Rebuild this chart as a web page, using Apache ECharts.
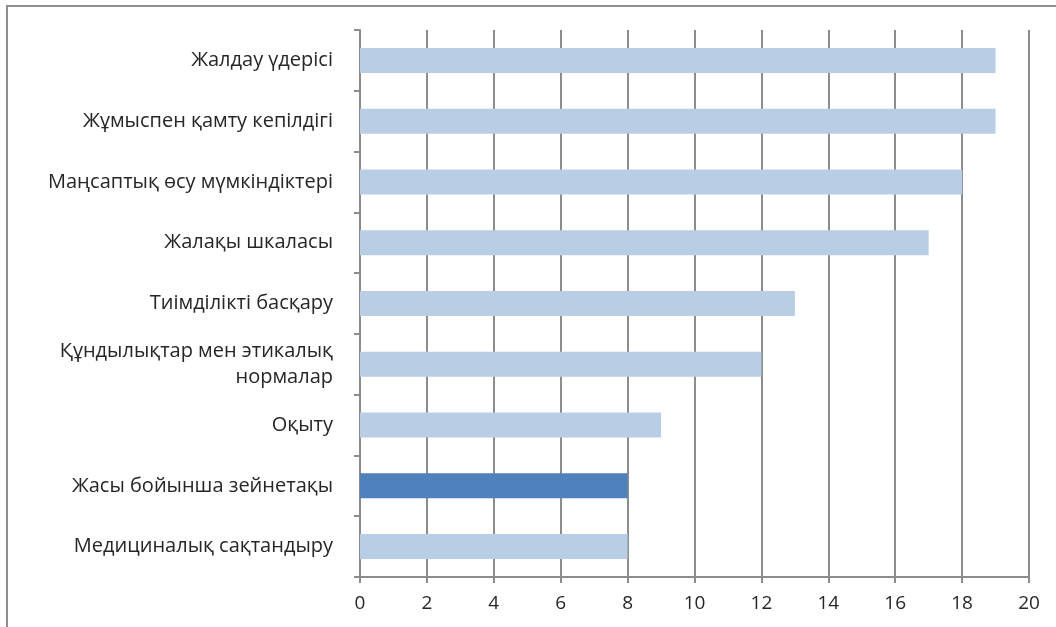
<!DOCTYPE html>
<html>
<head>
<meta charset="utf-8">
<script src="https://cdn.jsdelivr.net/npm/echarts@6/dist/echarts.min.js"></script>
<style>
  html, body { margin: 0; padding: 0; background: #fff; }
  #chart { width: 1056px; height: 627px; }
</style>
</head>
<body>
<div id="chart"></div>
<script>
var categories = [
  'Жалдау үдерісі',
  'Жұмыспен қамту кепілдігі',
  'Маңсаптық өсу мүмкіндіктері',
  'Жалақы шкаласы',
  'Тиімділікті басқару',
  'Құндылықтар мен этикалық\nнормалар',
  'Оқыту',
  'Жасы бойынша зейнетақы',
  'Медициналық сақтандыру'
];
var values = [19, 19, 18, 17, 13, 12, 9, 8, 8];
var highlighted = 'Жасы бойынша зейнетақы';

var chart = echarts.init(document.getElementById('chart'));

var barData = values.map(function (v, i) {
  return {
    value: v,
    itemStyle: { color: categories[i] === highlighted ? '#4f81bd' : '#b9cde5' }
  };
});

var option = {
  backgroundColor: '#ffffff',
  animation: false,
  graphic: [{
    type: 'rect',
    shape: { x: 7, y: 6, width: 1200, height: 800 },
    style: { fill: 'none', stroke: '#8f8f8f', lineWidth: 2 },
    silent: true
  }],
  grid: { left: 360, right: 27, top: 30, bottom: 50 },
  xAxis: {
    type: 'value',
    min: 0,
    max: 20,
    interval: 2,
    axisLine: { show: true, lineStyle: { color: '#8c8c8c', width: 2 } },
    axisTick: { show: true, length: 6, lineStyle: { color: '#8c8c8c', width: 2 } },
    splitLine: { show: true, lineStyle: { color: '#8c8c8c', width: 2 } },
    axisLabel: {
      margin: 17,
      color: '#262626',
      fontFamily: 'Open Sans',
      fontSize: 19
    }
  },
  yAxis: {
    type: 'category',
    inverse: true,
    data: categories,
    axisLine: { show: true, lineStyle: { color: '#8c8c8c', width: 2 } },
    axisTick: { show: true, length: 6, lineStyle: { color: '#8c8c8c', width: 2 } },
    axisLabel: {
      margin: 27,
      color: '#262626',
      fontFamily: 'Open Sans',
      fontSize: 20,
      lineHeight: 26,
      align: 'right'
    }
  },
  series: [{
    type: 'bar',
    data: barData,
    barWidth: 25,
    silent: true
  }]
};

chart.setOption(option);
</script>
</body>
</html>
